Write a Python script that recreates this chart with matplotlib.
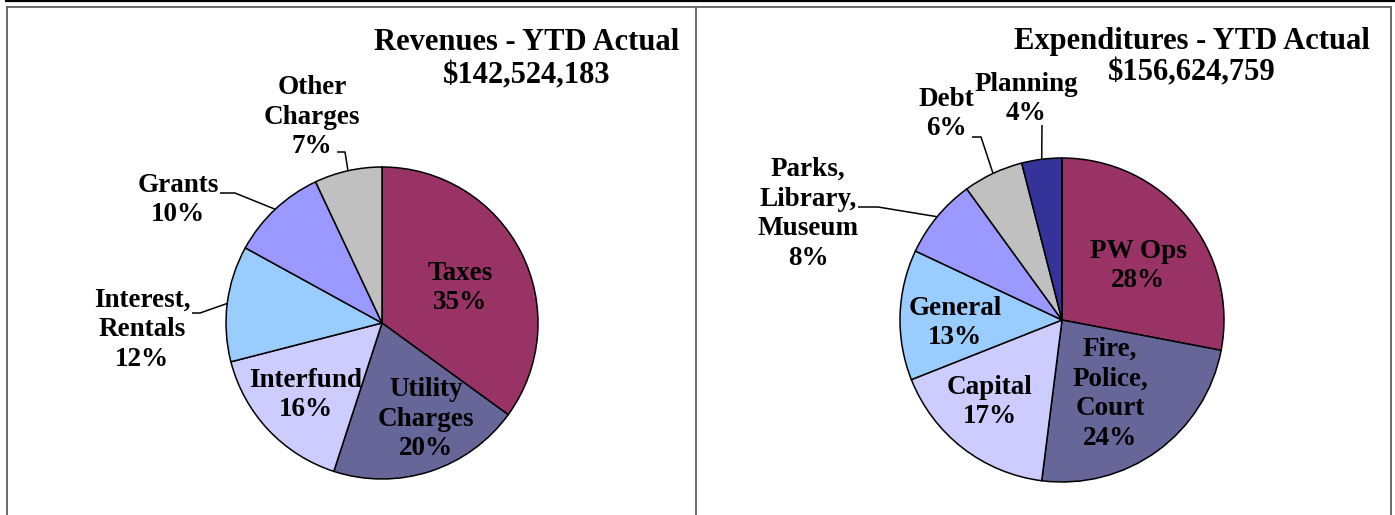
import numpy as np
import matplotlib
matplotlib.use("Agg")
import matplotlib.pyplot as plt

# ---------------- data ----------------
rev_labels = ["Taxes", "Utility\nCharges", "Interfund", "Interest,\nRentals", "Grants", "Other\nCharges"]
rev_values = [35, 20, 16, 12, 10, 7]
rev_colors = ["#993366", "#666699", "#CCCCFF", "#99CCFF", "#9999FF", "#C0C0C0"]
rev_title = "Revenues - YTD Actual"
rev_total = "$142,524,183"

exp_labels = ["PW Ops", "Fire,\nPolice,\nCourt", "Capital", "General", "Parks,\nLibrary,\nMuseum", "Debt", "Planning"]
exp_values = [28, 24, 17, 13, 8, 6, 4]
exp_colors = ["#993366", "#666699", "#CCCCFF", "#99CCFF", "#9999FF", "#C0C0C0", "#333399"]
exp_title = "Expenditures - YTD Actual"
exp_total = "$156,624,759"

# ---------------- layout (pixel coords, y from top) ----------------
W, H = 1395, 515
FONT = "Liberation Serif"

rev_center = (382, 323); rev_radius = 156
exp_center = (1062, 320); exp_radius = 162

rev_label_pos = [(460, 288), (426, 419), (306, 395), (142, 330), (178, 200), (312, 117)]
rev_leaders = [None, None, None, ((192, 313), (200, 313)), ((220, 193), (235, 193)), ((337, 152), (345, 152))]

exp_label_pos = [(1138, 266), (1110, 394), (990, 402), (955, 323), (808, 214), (946, 114), (1026, 99)]
exp_leaders = [None, None, None, None, ((858, 207), (878, 207)), ((972, 137), (981, 137)), ((1042, 125), (1042, 125))]

fig = plt.figure(figsize=(W / 100, H / 100), dpi=100)
ax = fig.add_axes([0, 0, 1, 1])


def fy(y):
    return H - y


def draw_pie(values, labels, colors, center, radius, label_pos, leaders):
    total = sum(values)
    wedges, _ = ax.pie(values, colors=colors, startangle=90, counterclock=False,
                       center=(center[0], fy(center[1])), radius=radius,
                       wedgeprops=dict(edgecolor="black", linewidth=1.1),
                       frame=True)
    for w, lab, v, pos, ld in zip(wedges, labels, values, label_pos, leaders):
        pct = f"{round(100 * v / total):d}%"
        ax.text(pos[0], fy(pos[1]), f"{lab}\n{pct}", ha="center", va="center",
                fontsize=19.5, fontweight="bold", family=FONT, linespacing=1.25,
                color="black")
        if ld is not None:
            mid = np.deg2rad((w.theta1 + w.theta2) / 2)
            ex = center[0] + radius * np.cos(mid)
            ey = fy(center[1]) + radius * np.sin(mid)
            xs = [ld[0][0], ld[1][0], ex]
            ys = [fy(ld[0][1]), fy(ld[1][1]), ey]
            ax.plot(xs, ys, color="black", lw=1.1, solid_capstyle="butt")
    return wedges


draw_pie(rev_values, rev_labels, rev_colors, rev_center, rev_radius, rev_label_pos, rev_leaders)
draw_pie(exp_values, exp_labels, exp_colors, exp_center, exp_radius, exp_label_pos, exp_leaders)

# titles
for x, y, s in [(527, 43, rev_title), (527, 76, rev_total), (1192, 41, exp_title), (1192, 73, exp_total)]:
    ax.text(x, fy(y), s, ha="center", va="center", fontsize=22, fontweight="bold", family=FONT)

# borders
ax.plot([5, W], [fy(1), fy(1)], color="black", lw=1.6, solid_capstyle="butt")
ax.plot([6, 1391], [fy(6.5), fy(6.5)], color="#606060", lw=1.3, solid_capstyle="butt")
for x in (6.5, 695.5, 1391):
    ax.plot([x, x], [fy(6), 0], color="#606060", lw=1.3, solid_capstyle="butt")

ax.set_xlim(0, W)
ax.set_ylim(0, H)
ax.set_aspect("auto")
ax.axis("off")

fig.savefig("out.png", dpi=100)
